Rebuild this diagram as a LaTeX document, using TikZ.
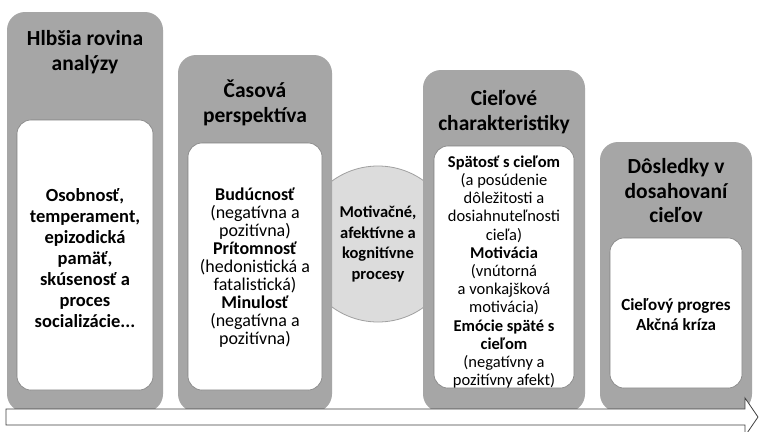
\documentclass[tikz,border=0pt]{standalone}
\usepackage{fontspec}
\setmainfont{Carlito}
\definecolor{boxgray}{HTML}{A6A6A6}
\definecolor{edgegray}{HTML}{7F7F7F}
\definecolor{circfill}{HTML}{DCDCDC}
\definecolor{circedge}{HTML}{A0A0A0}
\definecolor{arrowedge}{HTML}{404040}
\tikzset{
  outerbox/.style={fill=boxgray, draw=none, rounded corners=18pt, inner sep=0pt},
  innerbox/.style={fill=white, draw=edgegray, line width=0.6pt, rounded corners=14pt, inner sep=0pt},
  titletext/.style={font=\bfseries\fontsize{21.5}{24.5}\selectfont, align=center, text=black, inner sep=0pt},
  bodytext/.style={font=\fontsize{17.5}{19.5}\selectfont, align=center, text=black, inner sep=0pt},
  procbubble/.style={circle, fill=circfill, draw=circedge, line width=0.8pt, inner sep=0pt},
}
\begin{document}
\begin{tikzpicture}[x=1pt, y=-1pt]
\useasboundingbox (0,0) rectangle (760,431);
\fill[white] (0,0) rectangle (760,431);

% central process bubble, sitting behind the columns
\node[procbubble, minimum size=156pt] (proc) at (378,244) {};

% column 1
\node[outerbox, minimum width=156pt, minimum height=400pt] (c1) at (85,212) {};
\node[innerbox, minimum width=136pt, minimum height=270pt] (c1in) at (85,255) {};
\node[titletext] (t1) at (85,52) {Hlbšia rovina\\analýzy};
\node[bodytext, font=\bfseries\fontsize{18.5}{21}\selectfont] (b1) at (85,258)
  {Osobnosť,\\temperament,\\epizodická\\pamäť,\\skúsenosť a\\proces\\socializácie...};

% column 2
\node[outerbox, minimum width=154pt, minimum height=357pt] (c2) at (255,233.5) {};
\node[innerbox, minimum width=134pt, minimum height=247pt] (c2in) at (255,266.5) {};
\node[titletext] (t2) at (255,103) {Časová\\perspektíva};
\node[bodytext, font=\fontsize{18}{18}\selectfont] (b2) at (255,268)
  {\textbf{Budúcnosť}\\(negatívna a\\pozitívna)\\\textbf{Prítomnosť}\\(hedonistická a\\fatalistická)\\\textbf{Minulosť}\\(negatívna a\\pozitívna)};

% text of the process bubble
\node[bodytext, font=\bfseries\fontsize{16.5}{20.5}\selectfont] (ptext) at (proc.center)
  {Motivačné,\\afektívne a\\kognitívne\\procesy};

% column 3
\node[outerbox, minimum width=162pt, minimum height=342pt] (c3) at (504,241) {};
\node[innerbox, minimum width=140pt, minimum height=242pt] (c3in) at (504,267) {};
\node[titletext] (t3) at (504,112) {Cieľové\\charakteristiky};
\node[bodytext, font=\fontsize{16.5}{18.2}\selectfont] (b3) at (504,272)
  {\textbf{Spätosť s cieľom}\\(a posúdenie\\dôležitosti a\\dosiahnuteľnosti\\cieľa)\\\textbf{Motivácia}\\(vnútorná\\a vonkajšková\\motivácia)\\\textbf{Emócie späté s}\\\textbf{cieľom}\\(negatívny a\\pozitívny afekt)};

% column 4
\node[outerbox, minimum width=152pt, minimum height=270pt] (c4) at (676,277) {};
\node[innerbox, minimum width=132pt, minimum height=150pt] (c4in) at (676,313) {};
\node[titletext] (t4) at (676,191) {Dôsledky v\\dosahovaní\\cieľov};
\node[bodytext, font=\bfseries\fontsize{17}{20}\selectfont] (b4) at (676,315)
  {Cieľový progres\\Akčná kríza};

% time arrow along the bottom
\draw[fill=white, draw=arrowedge, line width=0.8pt]
  (6,409) -- (745,409) -- (745,398) -- (758,417) -- (745,436)
  -- (745,425) -- (6,425) -- cycle;
\end{tikzpicture}
\end{document}
